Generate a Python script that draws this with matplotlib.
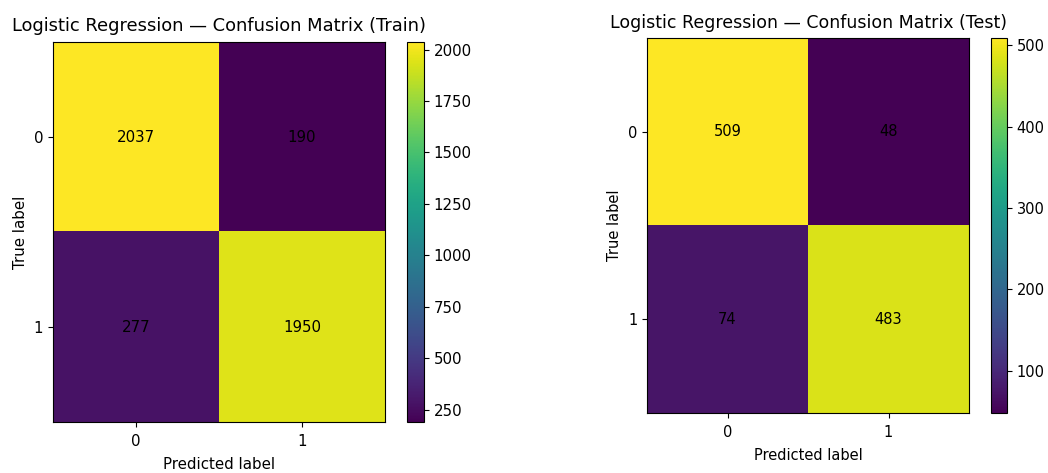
import numpy as np
import matplotlib.pyplot as plt

# confusion matrices
classes = ['0', '1']
cm_train = np.array([[2037, 190],
                     [277, 1950]])
cm_test = np.array([[509, 48],
                    [74, 483]])
titles = ['Logistic Regression — Confusion Matrix (Train)',
          'Logistic Regression — Confusion Matrix (Test)']
cbar_ticks_train = [250, 500, 750, 1000, 1250, 1500, 1750, 2000]
cbar_ticks_test = [100, 200, 300, 400, 500]

W, H = 1048, 473
fig = plt.figure(figsize=(W / 100, H / 100), dpi=100)


def px_axes(x0, y0, x1, y1):
    """axes from pixel box (top-left origin)"""
    return fig.add_axes([x0 / W, 1 - y1 / H, (x1 - x0) / W, (y1 - y0) / H])


def draw_cm(ax, cax, cm, title, ticks, fs, tfs, tpad):
    im = ax.imshow(cm, cmap='viridis', aspect='auto')
    for i in range(cm.shape[0]):
        for j in range(cm.shape[1]):
            ax.text(j, i, str(cm[i, j]), ha='center', va='center',
                    color='black', fontsize=fs)
    ax.set_xticks(range(len(classes)))
    ax.set_xticklabels(classes)
    ax.set_yticks(range(len(classes)))
    ax.set_yticklabels(classes)
    ax.tick_params(labelsize=fs)
    ax.tick_params(axis='x', pad=5)
    ax.set_xlabel('Predicted label', fontsize=fs, labelpad=6)
    ax.set_ylabel('True label', fontsize=fs)
    ax.set_title(title, fontsize=tfs, pad=tpad)
    cb = fig.colorbar(im, cax=cax, ticks=ticks)
    cb.ax.tick_params(labelsize=fs)
    cb.outline.set_linewidth(0.8)


ax1 = px_axes(53, 42, 385, 422)
cax1 = px_axes(407, 42, 424, 422)
draw_cm(ax1, cax1, cm_train, titles[0], cbar_ticks_train, 10.8, 12.9, 8)

ax2 = px_axes(647, 38, 969, 413)
cax2 = px_axes(991, 38, 1007, 413)
draw_cm(ax2, cax2, cm_test, titles[1], cbar_ticks_test, 10.5, 12.5, 7.5)

fig.savefig('out.png', dpi=100)
